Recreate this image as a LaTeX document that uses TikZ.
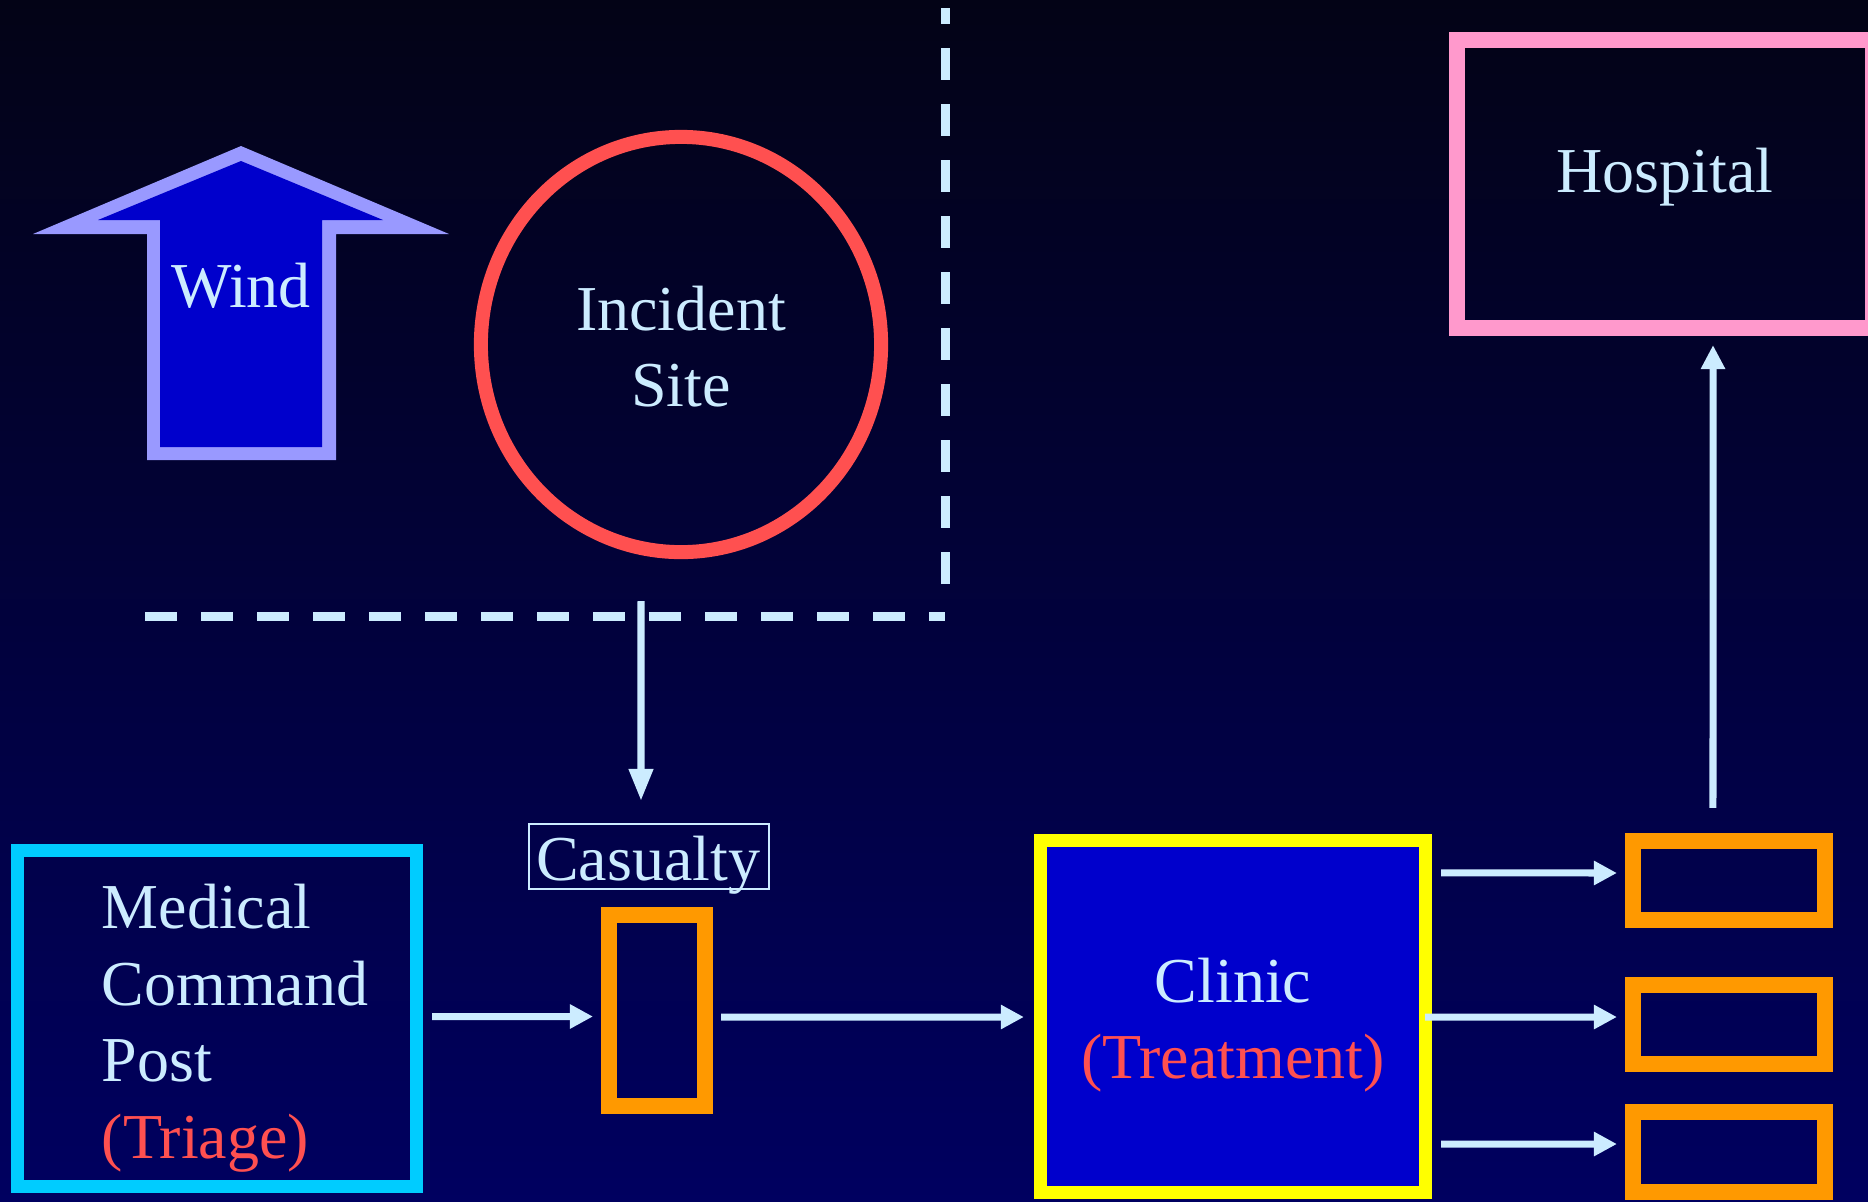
\documentclass[tikz,border=0pt]{standalone}
\usepackage{fontspec}
\setmainfont{Liberation Serif}
\usetikzlibrary{arrows.meta,shapes.geometric}
\definecolor{bgtop}{RGB}{3,3,22}
\definecolor{bgbot}{RGB}{0,0,96}
\definecolor{txt}{RGB}{204,236,255}
\definecolor{redc}{RGB}{255,80,80}
\definecolor{cyanc}{RGB}{0,204,255}
\definecolor{yellowc}{RGB}{255,255,0}
\definecolor{orangec}{RGB}{255,153,0}
\definecolor{pinkc}{RGB}{255,153,204}
\definecolor{windb}{RGB}{153,153,255}
\definecolor{bluefill}{RGB}{0,0,204}
\begin{document}
\begin{tikzpicture}[x=0.01cm,y=-0.01cm,
  lbl/.style={text=txt, font=\fontsize{18.2pt}{21.8pt}\selectfont, inner sep=0pt, anchor=base},
  conn/.style={draw=txt, line width=0.07cm, -{Triangle[length=0.23cm,width=0.23cm]}},
  orangebox/.style={draw=orangec, line width=0.16cm, minimum width=1.92cm, minimum height=0.79cm, inner sep=0pt},
  dashline/.style={draw=txt, line width=0.09cm, dash pattern=on 0.32cm off 0.24cm}]
\useasboundingbox (0,0) rectangle (1868,1202);
\clip (0,0) rectangle (1868,1202);
\shade[top color=bgtop, bottom color=bgbot] (0,0) rectangle (1868,1202);

% Wind arrow
\fill[windb] (241,146) -- (449,234) -- (336,234) -- (336,460) -- (147,460) -- (147,234) -- (33,234) -- cycle;
\fill[bluefill] (241,161) -- (383,220) -- (322,220) -- (322,447) -- (160,447) -- (160,220) -- (98,220) -- cycle;
\node[lbl] (windtxt) at (241,307) {Wind};

% Incident site
\node[draw=redc, line width=0.14cm, ellipse, minimum width=4cm, minimum height=4.15cm, inner sep=0pt] (site) at (681,344.5) {};
\node[lbl] (site1) at (681,330) {Incident};
\node[lbl] (site2) at (681,406) {Site};

% dashed boundary
\draw[dashline] (945,584) -- (945,8);
\draw[dashline] (145,616) -- (945,616);

% Casualty
\node[draw=txt, line width=0.025cm, minimum width=2.395cm, minimum height=0.645cm, inner sep=0pt] (casbox) at (649,856.5) {};
\node[lbl] (castxt) at (648,880) {Casualty};
\node[draw=orangec, line width=0.16cm, minimum width=0.96cm, minimum height=1.91cm, inner sep=0pt] (casrect) at (657,1010.5) {};
\coordinate (dstart) at (641,601);
\draw[draw=txt, line width=0.07cm, -{Triangle[length=0.32cm,width=0.23cm]}] (dstart) -- ([xshift=-0.08cm,yshift=0.22cm]casbox.north);

% Medical command post
\node[draw=cyanc, line width=0.13cm, minimum width=3.99cm, minimum height=3.36cm, inner sep=0pt] (mcp) at (217,1018.5) {};
\node[lbl, anchor=base west] (mcp1) at (101,928) {Medical};
\node[lbl, anchor=base west] (mcp2) at (101,1005) {Command};
\node[lbl, anchor=base west] (mcp3) at (101,1081) {Post};
\node[lbl, anchor=base west, text=redc] (mcp4) at (101,1158) {(Triage)};

% Clinic
\node[draw=yellowc, fill=bluefill, line width=0.13cm, minimum width=3.85cm, minimum height=3.52cm, inner sep=0pt] (clinic) at (1233,1016.5) {};
\node[lbl] (clin1) at (1233,1002) {Clinic};
\node[lbl, text=redc] (clin2) at (1233,1078) {(Treatment)};

% Orange boxes
\node[orangebox] (ob1) at (1729,880.5) {};
\node[orangebox] (ob2) at (1729,1024.5) {};
\node[orangebox, minimum height=0.80cm] (ob3) at (1729,1152) {};

% Hospital
\node[draw=pinkc, line width=0.16cm, minimum width=4.16cm, minimum height=2.88cm, inner sep=0pt] (hosp) at (1665,184) {};
\node[lbl] (hosptxt) at (1665,192) {Hospital};

% connectors
\draw[conn] ([xshift=0.09cm,yshift=0.02cm]mcp.east) -- ([xshift=-0.08cm,yshift=-0.06cm]casrect.west);
\draw[conn] ([xshift=0.08cm,yshift=-0.065cm]casrect.east) -- ([xshift=-0.10cm,yshift=-0.005cm]clinic.west);
\draw[conn] ([xshift=0.09cm,yshift=1.435cm]clinic.east) -- ([xshift=-0.08cm,yshift=0.075cm]ob1.west);
\draw[conn] ([xshift=-0.07cm,yshift=-0.005cm]clinic.east) -- ([xshift=-0.08cm,yshift=0.075cm]ob2.west);
\draw[conn] ([xshift=0.09cm,yshift=-1.275cm]clinic.east) -- ([xshift=-0.08cm,yshift=0.08cm]ob3.west);
\draw[draw=txt, line width=0.07cm, -{Triangle[length=0.24cm,width=0.23cm]}] ([xshift=-0.16cm,yshift=0.25cm]ob1.north) -- ([xshift=0.48cm,yshift=-0.09cm]hosp.south);
\end{tikzpicture}
\end{document}
